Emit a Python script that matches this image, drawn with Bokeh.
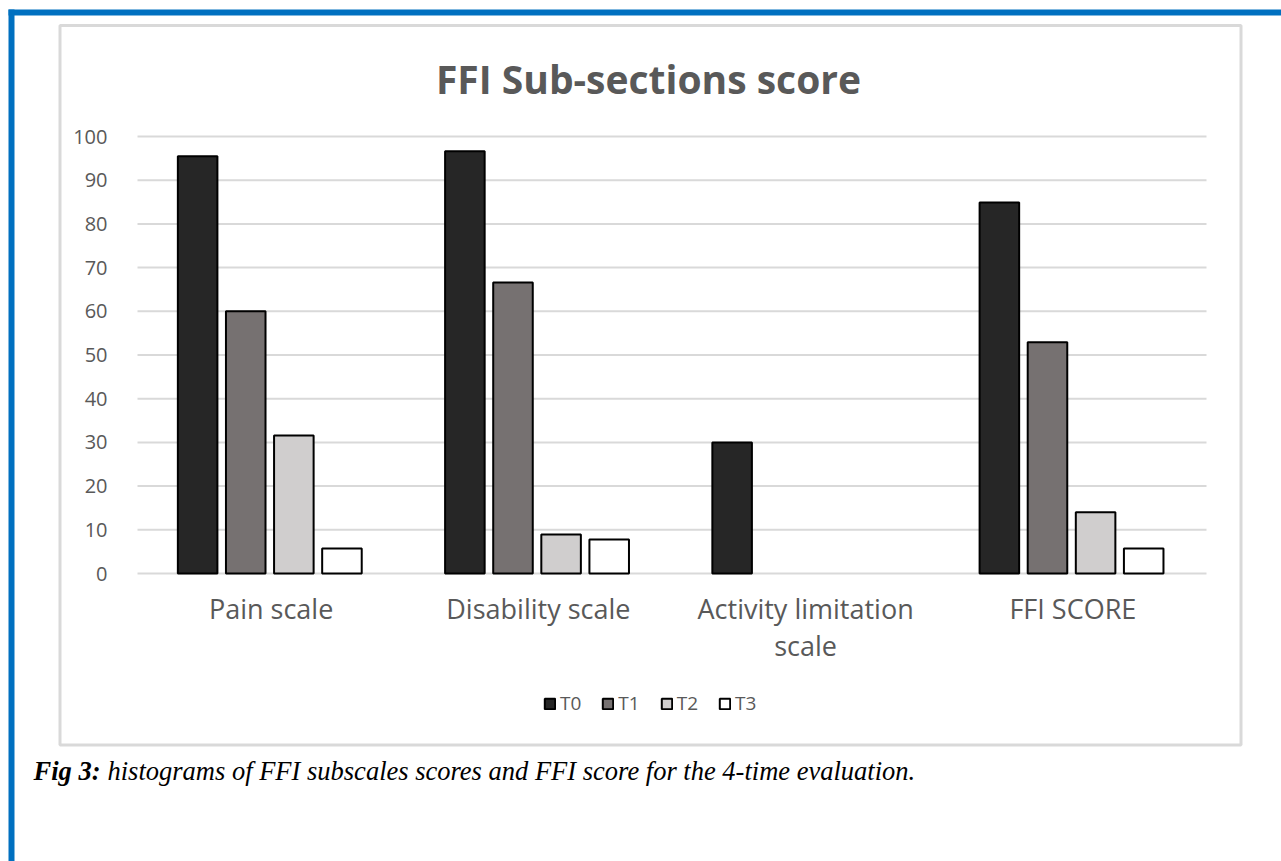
from bokeh.plotting import figure
from bokeh.models import (Range1d, BoxAnnotation, Label, Legend, LegendItem,
                          FixedTicker, ColumnDataSource)
from bokeh.embed import file_html
from bokeh.resources import INLINE

# ---- data ----
categories = ["Pain scale", "Disability scale", "Activity limitation\nscale", "FFI SCORE"]
series_names = ["T0", "T1", "T2", "T3"]
t0 = [95.5, 96.6, 30.0, 84.9]
t1 = [60.0, 66.6, 0.0, 52.9]
t2 = [31.6, 8.9, 0.0, 14.0]
t3 = [5.7, 7.8, 0.0, 5.7]
series_values = [t0, t1, t2, t3]
y_ticks = [0, 10, 20, 30, 40, 50, 60, 70, 80, 90, 100]
title_text = "FFI Sub-sections score"
caption_bold = "Fig 3:"
caption_text = "histograms of FFI subscales scores and FFI score for the 4-time evaluation."

# ---- styles ----
fills = ["#262626", "#767171", "#d0cece", "#ffffff"]
offsets = [-0.275, -0.095, 0.085, 0.265]
GRAY = "#595959"

W, H = 1281, 861
# plot area in page pixels
PL, PR, PT, PB = 137, 1206, 136, 573
ncat = len(categories)
ymax = y_ticks[-1]
ux = (PR - PL) / ncat
uy = (PB - PT) / ymax

p = figure(width=W, height=H,
           x_range=Range1d(-PL / ux, ncat + (W - PR) / ux),
           y_range=Range1d(-(H - PB) / uy, ymax + PT / uy),
           output_backend="svg", toolbar_location=None, min_border=0)
p.min_border_left = p.min_border_right = p.min_border_top = p.min_border_bottom = 0
p.outline_line_color = None
p.background_fill_color = "white"
p.border_fill_color = "white"
p.xgrid.grid_line_color = None
p.ygrid.grid_line_color = None

# page-pixel helper ranges (y downwards)
p.extra_x_ranges = {"px": Range1d(0, W)}
p.extra_y_ranges = {"py": Range1d(H, 0)}

# gridlines at tick values across the plot area
p.segment(x0=0, x1=ncat, y0=y_ticks, y1=y_ticks, line_color="#d9d9d9", line_width=2,
          level="underlay")

# bars
centers = [i + 0.5 for i in range(ncat)]
renderers = []
for name, vals, fill, off in zip(series_names, series_values, fills, offsets):
    src = ColumnDataSource(dict(x=[c + off for c in centers], val=vals,
                                lc=["black" if v > 0 else None for v in vals]))
    r = p.vbar(x="x", top="val", width=0.148, source=src,
               fill_color=fill, line_color="lc", line_width=2)
    renderers.append((name, r))

# axes (fixed inside the canvas-wide frame)
p.yaxis.fixed_location = 0
p.xaxis.fixed_location = 0
p.yaxis.ticker = FixedTicker(ticks=y_ticks)
p.xaxis.ticker = FixedTicker(ticks=centers)
p.xaxis.major_label_overrides = {c: n for c, n in zip(centers, categories)}
for ax in (p.xaxis[0], p.yaxis[0]):
    ax.axis_line_color = None
    ax.major_tick_line_color = None
    ax.minor_tick_line_color = None
    ax.major_label_text_color = GRAY
    ax.major_label_text_font = "Open Sans"
p.yaxis.major_label_text_font_size = "20px"
p.yaxis.major_label_standoff = 24
p.xaxis.major_label_text_font_size = "27px"
p.xaxis.major_label_standoff = 10
p.xaxis.major_label_text_line_height = 1.0

# legend
legend = Legend(items=[LegendItem(label=n, renderers=[r]) for n, r in renderers],
                orientation="horizontal", location=(543, H - 716), padding=0, margin=0,
                border_line_color=None, background_fill_alpha=0,
                glyph_width=13, glyph_height=13, label_standoff=4, spacing=20,
                label_text_font="Open Sans", label_text_font_size="19px",
                label_text_color=GRAY, label_height=13)
p.add_layout(legend, "center")

# decorations: page frame, chart box
blue = "#0070c0"
p.add_layout(BoxAnnotation(left=8, right=W + 10, top=9, bottom=15, x_range_name="px",
                           y_range_name="py", fill_color=blue, fill_alpha=1, line_color=None,
                           level="underlay"))
p.add_layout(BoxAnnotation(left=8, right=14, top=9, bottom=H + 10, x_range_name="px",
                           y_range_name="py", fill_color=blue, fill_alpha=1, line_color=None,
                           level="underlay"))
p.add_layout(BoxAnnotation(left=59.5, right=1240.5, top=25, bottom=744.5, x_range_name="px",
                           y_range_name="py", fill_alpha=0, line_color="#d9d9d9",
                           line_width=3, line_alpha=1, level="underlay"))

# title
p.add_layout(Label(x=648, y=78, x_range_name="px", y_range_name="py", text=title_text,
                   text_align="center", text_baseline="middle", text_font="Open Sans",
                   text_font_style="bold", text_font_size="39px", text_color=GRAY))

# caption
p.add_layout(Label(x=33, y=770, x_range_name="px", y_range_name="py", text=caption_bold,
                   text_align="left", text_baseline="alphabetic", text_font="Liberation Serif",
                   text_font_style="bold italic", text_font_size="26.5px", text_color="black"))
p.add_layout(Label(x=107, y=770, x_range_name="px", y_range_name="py", text=caption_text,
                   text_align="left", text_baseline="alphabetic", text_font="Liberation Serif",
                   text_font_style="italic", text_font_size="26.5px", text_color="black"))

open("out.html", "w").write(file_html(p, INLINE))
